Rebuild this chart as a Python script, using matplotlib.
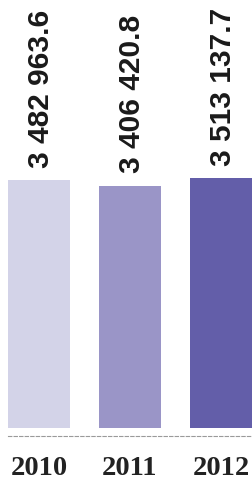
import matplotlib
matplotlib.use("Agg")
import matplotlib.pyplot as plt

years = ["2010", "2011", "2012"]
values = [3482963.6, 3406420.8, 3513137.7]
labels = ["3 482 963.6", "3 406 420.8", "3 513 137.7"]
colors = ["#d3d3e8", "#9a95c7", "#635ea9"]

W, H = 252, 481
fig = plt.figure(figsize=(W / 100, H / 100), dpi=100)
ax = fig.add_axes([8 / W, 44 / H, 1 - 8 / W, 437 / H])

k = 7.118e-5  # pixels per unit
x = range(len(years))
ax.bar(x, values, width=0.68, color=colors)
ax.set_xlim(-0.34, -0.34 + 244 / 91)
ax.set_ylim(-8 / k, (437 - 8) / k)

for i, v in enumerate(values):
    ax.annotate(labels[i], (i, v), xytext=(1.5, 9.5), textcoords="offset points",
                rotation=90, ha="center", va="bottom", fontsize=21.5,
                fontweight="bold", family="Liberation Sans", color="#1a1a1a")

ax.set_xticks(list(x))
ax.set_xticklabels(years, fontsize=20.5, fontweight="bold",
                   family="Liberation Serif", color="#222222")
ax.tick_params(axis="x", length=0, pad=14)
ax.set_yticks([])
for s in ["top", "right", "left"]:
    ax.spines[s].set_visible(False)
ax.spines["bottom"].set_linestyle((0, (3, 2)))
ax.spines["bottom"].set_color("#9a9a9a")
ax.spines["bottom"].set_linewidth(0.8)

fig.savefig("out.png", dpi=100)
